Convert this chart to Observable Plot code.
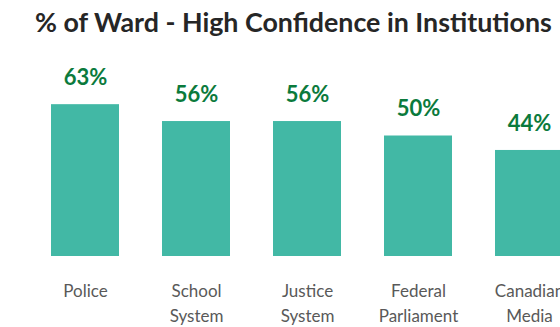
<!DOCTYPE html>
<html>
<head>
<meta charset="utf-8">
<script src="https://cdn.jsdelivr.net/npm/d3@7"></script>
<script src="https://cdn.jsdelivr.net/npm/@observablehq/plot@0.6"></script>
<style>
  html, body { margin: 0; padding: 0; background: #fff; overflow: hidden; width: 560px; height: 327px; }
  #title { position: absolute; left: 35px; top: 5px; white-space: nowrap; font-family: Lato, "Open Sans", sans-serif; font-weight: bold; font-size: 26.8px; color: #262626; line-height: 34px; }
  #chart { position: absolute; left: 0; top: 0; width: 600px; }
  #chart svg { max-width: none !important; }
</style>
</head>
<body>
<div id="chart"></div>
<div id="title">% of Ward - High Confidence in Institutions</div>
<script>
const categories = ["Police", "School System", "Justice System", "Federal Parliament", "Canadian Media"];
const tickLabels = ["Police", "School\nSystem", "Justice\nSystem", "Federal\nParliament", "Canadian\nMedia"];
const values = [63, 56, 56, 50, 44];
const valueLabels = ["63%", "56%", "56%", "50%", "44%"];

const data = categories.map((c, i) => ({category: c, value: values[i], label: valueLabels[i]}));
const tickMap = new Map(categories.map((c, i) => [c, tickLabels[i]]));

const chart = Plot.plot({
  width: 585,
  height: 327,
  marginLeft: 28,
  marginRight: 0,
  marginTop: 15,
  marginBottom: 71,
  style: {fontFamily: "Lato, 'Open Sans', sans-serif", background: "#fff", maxWidth: "none"},
  x: {type: "band", domain: categories, paddingInner: 0.39, paddingOuter: 0.195, axis: null, label: null},
  y: {domain: [0, 100], axis: null},
  marks: [
    Plot.barY(data, {x: "category", y: "value", fill: "#42b8a5"}),
    Plot.text(data, {x: "category", y: "value", text: "label", dy: -27, fill: "#0b7a3c", fontSize: 22, fontWeight: "bold"}),
    Plot.axisX({domain: categories, label: null, tickSize: 0, tickPadding: 23, fontSize: 17, fill: "#595959", lineHeight: 1.47, tickFormat: d => tickMap.get(d)})
  ]
});
document.getElementById("chart").appendChild(chart);
</script>
</body>
</html>
